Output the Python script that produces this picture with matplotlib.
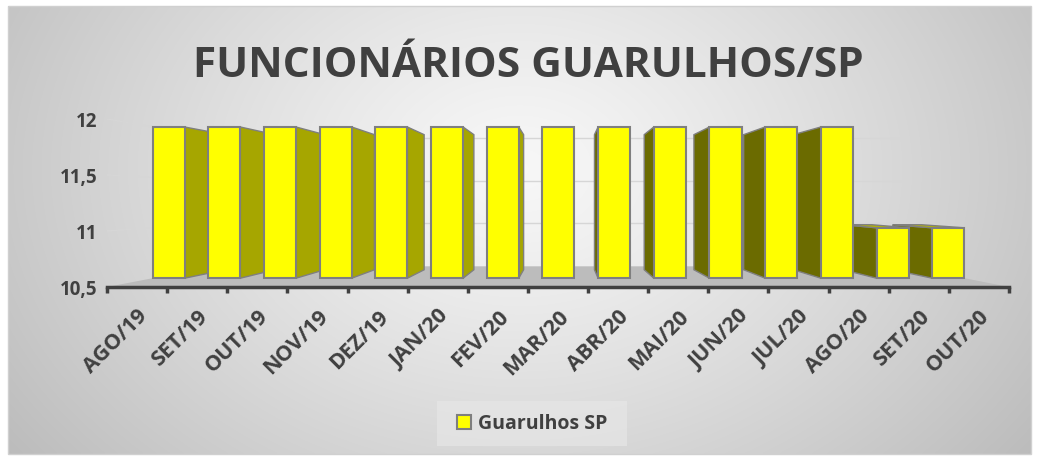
import numpy as np
import matplotlib.pyplot as plt
from matplotlib.patches import Polygon, Rectangle
from matplotlib import font_manager

# dados
meses = ['AGO/19', 'SET/19', 'OUT/19', 'NOV/19', 'DEZ/19', 'JAN/20', 'FEV/20',
         'MAR/20', 'ABR/20', 'MAI/20', 'JUN/20', 'JUL/20', 'AGO/20', 'SET/20', 'OUT/20']
funcionarios = [12, 12, 12, 12, 12, 12, 12, 12, 12, 12, 12, 12, 12, 11, 11]
y_ticks = [10.5, 11, 11.5, 12]
y_labels = ['10,5', '11', '11,5', '12']
serie = 'Guarulhos SP'
titulo = 'FUNCIONÁRIOS GUARULHOS/SP'

nomes = {f.name for f in font_manager.fontManager.ttflist}
fonte = 'Open Sans' if 'Open Sans' in nomes else 'DejaVu Sans'
plt.rcParams['font.family'] = fonte
cinza_txt = '#404040'

W, H = 1042, 464
fig = plt.figure(figsize=(W / 100, H / 100), dpi=100)
fig.patch.set_facecolor('white')

# fundo com gradiente radial
bg = fig.add_axes([0, 0, 1, 1])
bg.set_xlim(0, W)
bg.set_ylim(H, 0)
bg.axis('off')
gx, gy = np.meshgrid(np.linspace(8, 1031, 400), np.linspace(7, 455, 200))
r = np.hypot((gx - 520) / 560, (gy - 170) / 420)
g = np.clip(0.97 - 0.2 * r ** 1.2, 0, 1)
bg.imshow(np.dstack([g, g, g]), extent=(8, 1031, 455, 7), aspect='auto', interpolation='bilinear')
bg.add_patch(Rectangle((8, 7), 1023, 448, fill=False, edgecolor='#d0d0d0', lw=1))
bg.add_patch(Rectangle((437, 402), 190, 45, facecolor='#e6e6e6', edgecolor='none', alpha=0.7))

fig.text(528 / W, 1 - 77 / H, titulo, ha='center', va='baseline', fontsize=30.5,
         fontweight='bold', color=cinza_txt)

# eixo principal (plano frontal)
ax = fig.add_axes([107 / W, (H - 288) / H, 902 / W, 168 / H])
ax.set_xlim(-0.5, len(meses) - 0.5)
ax.set_ylim(10.5, 12)
ax.patch.set_alpha(0)
for s in ['top', 'right', 'left']:
    ax.spines[s].set_visible(False)
ax.spines['bottom'].set_color(cinza_txt)
ax.spines['bottom'].set_linewidth(2.5)

# perspectiva
VX, VY = 7.1, 11.286
FX, FY = 0.074, 0.10
BX, BY = 0.173, 0.196
WX, WY = 0.235, 0.235
half = 0.2875


def px(x, t):
    return x + t * (VX - x)


def py(y, t):
    return y + t * (VY - y)


x0, x1 = -0.5, len(meses) - 0.5
base = y_ticks[0]

# piso
ax.add_patch(Polygon([(x0, base), (x1, base), (px(x1, WX), py(base, WY)), (px(x0, WX), py(base, WY))],
                     closed=True, facecolor='#bcbcbc', edgecolor='none', zorder=1))
# linhas de grade
for v in y_ticks[1:]:
    ax.plot([px(x0, WX), px(x1, WX)], [py(v, WY), py(v, WY)], color='#d6d6d6', lw=1, zorder=1)
    ax.plot([x0, px(x0, WX)], [v, py(v, WY)], color='#d6d6d6', lw=1, zorder=1)

xs = np.arange(len(meses))
vals = np.array(funcionarios, dtype=float)
fl, fr = px(xs - half, FX), px(xs + half, FX)
bl, br = px(xs - half, BX), px(xs + half, BX)
fb, ft = py(base, FY), py(vals, FY)
bb, bt = py(base, BY), py(vals, BY)

borda = '#7f7f7f'
for i in range(len(xs)):
    if fl[i] > VX:
        ax.add_patch(Polygon([(fl[i], fb), (fl[i], ft[i]), (bl[i], bt[i]), (bl[i], bb)],
                             facecolor='#6b6b00', edgecolor=borda, lw=1, zorder=2))
    if fr[i] < VX:
        ax.add_patch(Polygon([(fr[i], fb), (fr[i], ft[i]), (br[i], bt[i]), (br[i], bb)],
                             facecolor='#a6a600', edgecolor=borda, lw=1, zorder=2))
    if vals[i] < VY:
        ax.add_patch(Polygon([(fl[i], ft[i]), (fr[i], ft[i]), (br[i], bt[i]), (bl[i], bt[i])],
                             facecolor='#b5b500', edgecolor=borda, lw=1, zorder=3))

barras = ax.bar((fl + fr) / 2, ft - fb, width=fr - fl, bottom=fb, color='#ffff00',
                edgecolor=borda, lw=1.5, zorder=4, label=serie)

ax.set_yticks(y_ticks)
ax.set_yticklabels(y_labels, fontsize=13.5, fontweight='bold', color=cinza_txt)
ax.tick_params(axis='y', length=0, pad=7)
ax.set_xticks(xs)
ax.set_xticklabels(meses, rotation=45, ha='right', va='top', rotation_mode='anchor',
                   fontsize=15.5, fontweight='bold', color=cinza_txt)
ax.set_xticks(np.arange(len(meses) + 1) - 0.5, minor=True)
ax.tick_params(axis='x', which='major', length=0, pad=13)
ax.tick_params(axis='x', which='minor', length=4.5, width=2.5, color=cinza_txt)

fig.legend(handles=[barras], labels=[serie], loc='center', bbox_to_anchor=(532 / W, 1 - 424.5 / H),
           frameon=False, handlelength=0.72, handleheight=0.72, handletextpad=0.35,
           prop={'family': fonte, 'weight': 'bold', 'size': 14})
for t in fig.legends[0].get_texts():
    t.set_color(cinza_txt)

fig.savefig('out.png', dpi=100, facecolor='white')
